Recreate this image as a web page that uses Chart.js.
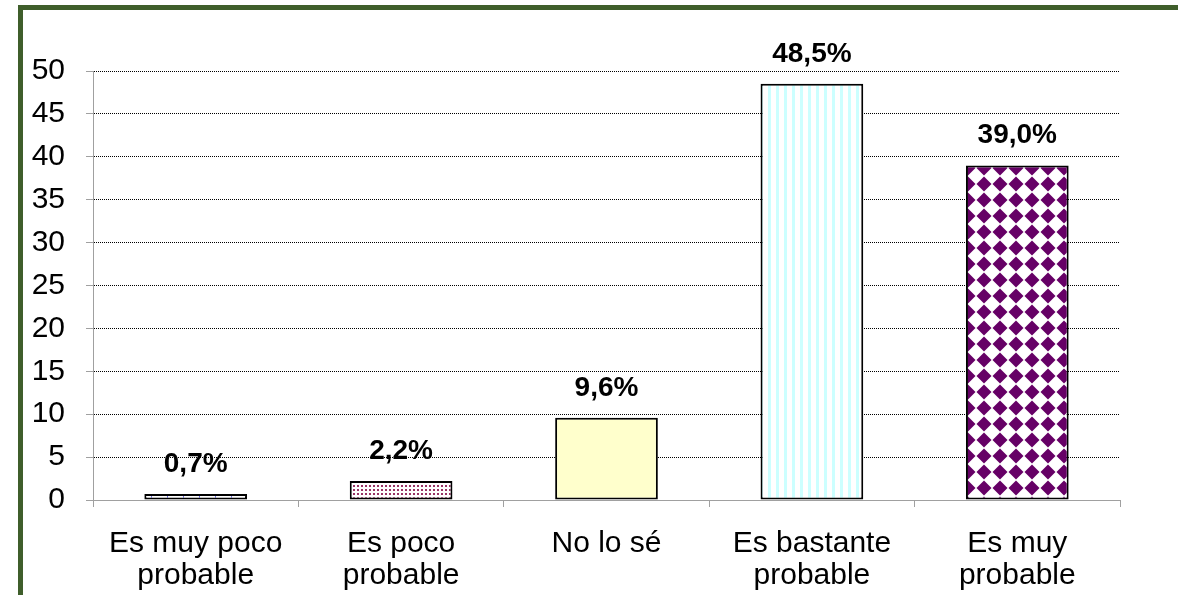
<!DOCTYPE html>
<html>
<head>
<meta charset="utf-8">
<script src="https://cdn.jsdelivr.net/npm/chart.js@4"></script>
<style>
    html, body { margin: 0; padding: 0; background: #fff; }
    #wrap { position: relative; width: 1178px; height: 595px; }
    #frame {
        position: absolute; left: 18px; top: 5px; right: 0; bottom: 0;
        border-top: 5px solid #3f5e2b; border-left: 5px solid #3f5e2b;
        pointer-events: none;
    }
</style>
</head>
<body>
<div id="wrap">
    <canvas id="myChart1" width="1178" height="595"></canvas>
    <div id="frame"></div>
</div>
<script>
const categories = [['Es muy poco', 'probable'], ['Es poco', 'probable'], 'No lo sé', ['Es bastante', 'probable'], ['Es muy', 'probable']];
const values = [0.7, 2.2, 9.6, 48.5, 39.0];
const yTicks = [0, 5, 10, 15, 20, 25, 30, 35, 40, 45, 50];

function makePattern(w, h, draw) {
    const c = document.createElement('canvas');
    c.width = w; c.height = h;
    const g = c.getContext('2d');
    g.fillStyle = '#fff';
    g.fillRect(0, 0, w, h);
    draw(g);
    return document.getElementById('myChart1').getContext('2d').createPattern(c, 'repeat');
}

const fills = [
    makePattern(16, 4, g => { g.fillStyle = '#6f6fe8'; g.fillRect(7, 0, 1, 4); }),
    makePattern(4, 4, g => { g.fillStyle = '#993366'; g.fillRect(1, 1, 2, 2); }),
    '#ffffcc',
    makePattern(8, 4, g => { g.fillStyle = '#ccffff'; g.fillRect(0, 0, 3, 4); }),
    makePattern(16, 16, g => {
        g.fillStyle = '#660066';
        g.beginPath();
        g.moveTo(8, 0.5); g.lineTo(15.5, 8); g.lineTo(8, 15.5); g.lineTo(0.5, 8);
        g.closePath();
        g.fill();
    })
];

const tickFont = { family: "'Liberation Sans', Arial, sans-serif", size: 30 };

const valueLabels = {
    id: 'valueLabels',
    afterDatasetsDraw(chart) {
        const ctx = chart.ctx;
        const meta = chart.getDatasetMeta(0);
        ctx.save();
        ctx.font = "bold 28px 'Liberation Sans', Arial, sans-serif";
        ctx.fillStyle = '#000';
        ctx.textAlign = 'center';
        ctx.textBaseline = 'alphabetic';
        meta.data.forEach((bar, i) => {
            ctx.fillText(values[i].toFixed(1).replace('.', ',') + '%', bar.x, bar.y - 22);
        });
        ctx.restore();
    }
};

const ctx1 = document.getElementById('myChart1').getContext('2d');
const myChart1 = new Chart(ctx1, {
    type: 'bar',
    data: {
        labels: categories,
        datasets: [{
            data: values,
            backgroundColor: fills,
            borderColor: '#000',
            borderWidth: 2,
            borderSkipped: false,
            barPercentage: 0.5,
            categoryPercentage: 1
        }]
    },
    options: {
        responsive: false,
        animation: false,
        layout: {
            padding: { left: 25, top: 71, right: 58, bottom: 0 }
        },
        scales: {
            y: {
                min: 0,
                max: 50,
                afterFit: s => { s.width = 68; },
                afterBuildTicks: s => { s.ticks = yTicks.map(v => ({ value: v })); },
                ticks: {
                    color: '#000',
                    font: tickFont,
                    padding: 21
                },
                grid: {
                    color: c => (c.tick && c.tick.value === 0) ? 'rgba(0,0,0,0)' : '#000',
                    lineWidth: 1,
                    tickLength: 7,
                    tickColor: '#a0a0a0'
                },
                border: {
                    color: '#a0a0a0',
                    width: 1,
                    dash: [1, 1]
                }
            },
            x: {
                afterFit: s => { s.height = 95; },
                ticks: {
                    color: '#000',
                    font: Object.assign({ lineHeight: 1.05 }, tickFont),
                    padding: 21,
                    maxRotation: 0,
                    autoSkip: false
                },
                grid: {
                    drawOnChartArea: false,
                    tickLength: 7,
                    tickColor: '#a0a0a0',
                    color: '#a0a0a0'
                },
                border: {
                    color: '#a0a0a0',
                    width: 1
                }
            }
        },
        plugins: {
            legend: { display: false },
            tooltip: { enabled: false }
        }
    },
    plugins: [valueLabels]
});
</script>
</body>
</html>
